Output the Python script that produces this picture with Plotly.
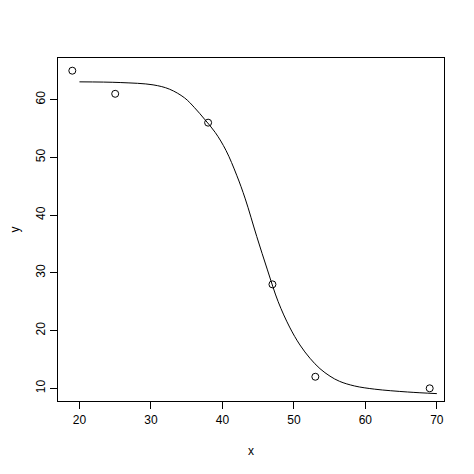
import plotly.graph_objects as go

# observed points
px = [19, 25, 38, 47, 53, 69]
py = [65, 61, 56, 28, 12, 10]

# fitted curve
cx = [20, 25.7, 30.3, 32.6, 34.7, 36.1, 37.5, 39.0, 40.5, 42.0, 43.2, 44.8, 46.3, 47.8,
      49.4, 50.85, 52.25, 53.65, 55.05, 56.4, 58.5, 61.3, 65.9, 70]
cy = [63.07, 62.95, 62.55, 61.8, 60.3, 58.6, 56.6, 54.3, 51.2, 46.9, 42.8, 36.3, 30.5, 25.0,
      20.6, 17.5, 15.2, 13.4, 12.1, 11.2, 10.4, 9.85, 9.36, 9.08]

xticks = [20, 30, 40, 50, 60, 70]
yticks = [10, 20, 30, 40, 50, 60]

fnt = dict(family="Liberation Sans, Arial, sans-serif", size=12, color="black")

fig = go.Figure()
fig.add_trace(go.Scatter(x=cx, y=cy, mode="lines",
                         line=dict(color="black", width=1, shape="spline", smoothing=1.0)))
fig.add_trace(go.Scatter(x=px, y=py, mode="markers",
                         marker=dict(symbol="circle-open", size=7, color="black",
                                     line=dict(width=1, color="black"))))

axis = dict(showgrid=False, zeroline=False, showline=True, mirror=True,
            linecolor="black", linewidth=1, ticks="outside", ticklen=7,
            tickcolor="black", tickfont=fnt, automargin=False)

# page body has an 8px margin, so margins are shifted by that
fig.update_layout(
    width=474, height=474,
    margin=dict(l=50, r=38, t=50, b=81),
    paper_bgcolor="white", plot_bgcolor="white",
    showlegend=False,
    font=fnt,
    xaxis=dict(axis, range=[17, 71], tickvals=xticks, ticklabelstandoff=1,
               title=dict(text="x", font=fnt, standoff=20)),
    yaxis=dict(axis, range=[7.8, 67.2], tickvals=yticks, tickangle=-90, ticklabelstandoff=0,
               title=dict(text="y", font=fnt, standoff=17)),
)

fig.write_html("out.html")
